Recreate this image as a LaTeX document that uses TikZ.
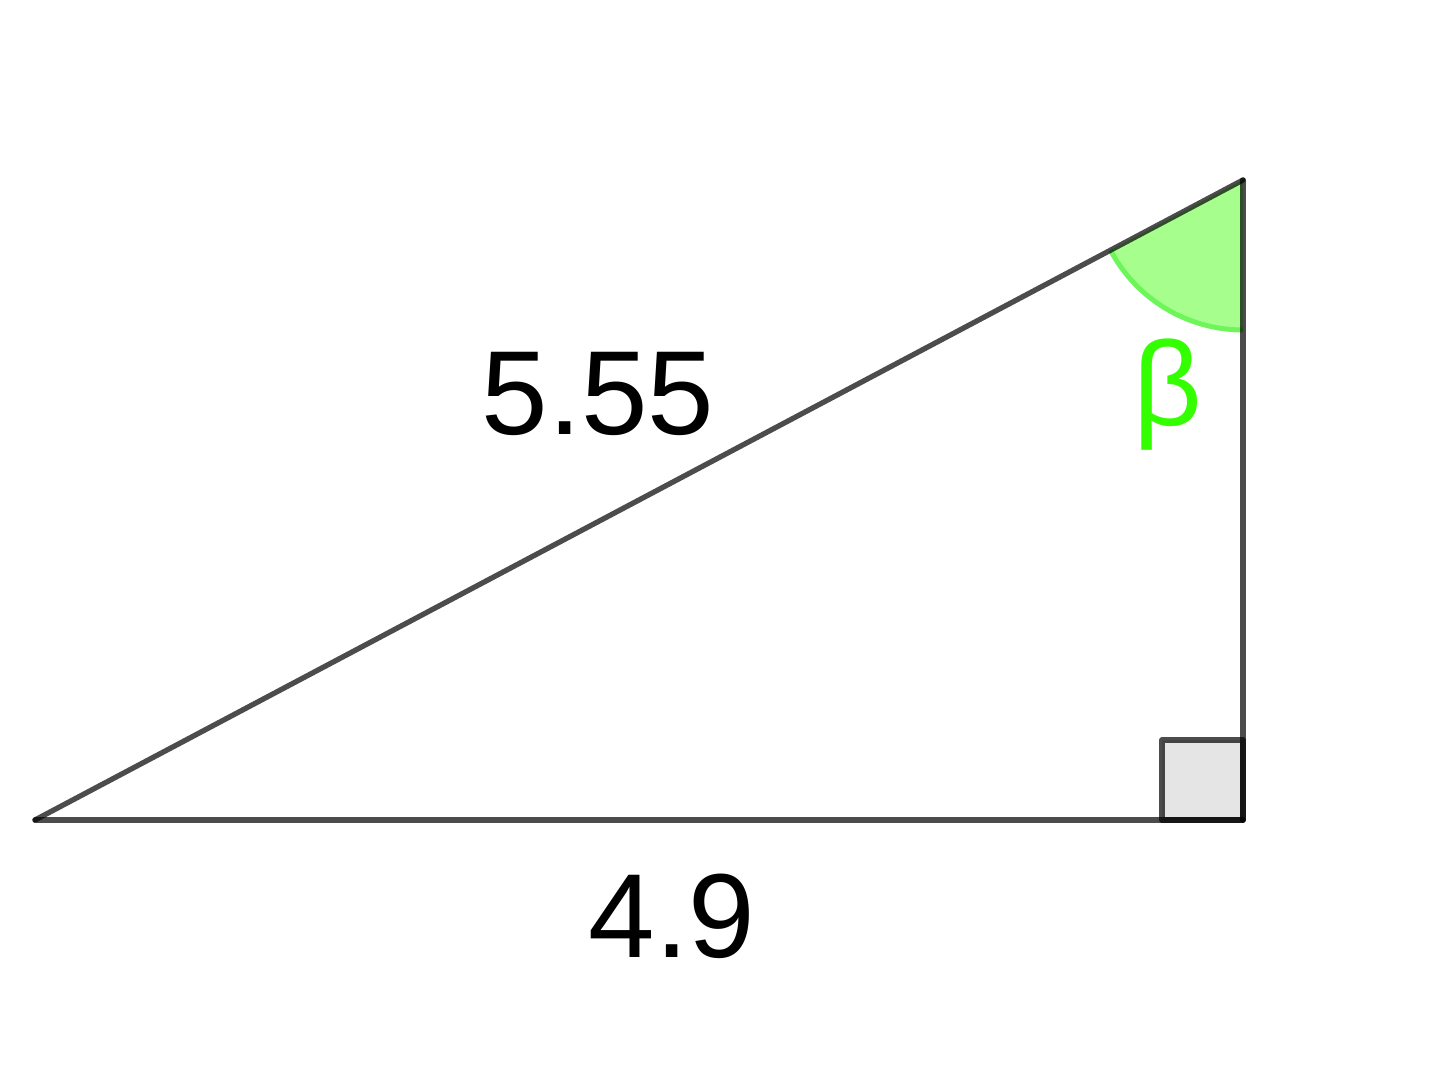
\documentclass[tikz,border=0pt]{standalone}
\usepackage{fontspec}
\setmainfont{Liberation Sans}
\usetikzlibrary{positioning}
\definecolor{angfill}{RGB}{166,255,140}
\definecolor{arcedge}{RGB}{110,245,90}
\definecolor{betacol}{RGB}{51,255,0}
\tikzset{side/.style={draw=black,draw opacity=0.7,line width=1.5pt,line cap=round,line join=round},lbl/.style={anchor=base,font=\fontsize{34}{40}\selectfont}}

\begin{document}
\begin{tikzpicture}[x=0.01cm,y=-0.01cm]
\useasboundingbox(0,0)rectangle(1445,1065);
\coordinate(A)at(35,820);\coordinate(B)at(1243,820);\coordinate(C)at(1243,180);
\filldraw[side,fill=black!10,fill opacity=1](B)rectangle(1162,740);
\fill[angfill](C)--++(152.1:150)arc[start angle=152.1,end angle=90,radius=150]--cycle;
\draw[arcedge,line width=1.4pt](C)++(152.1:150)arc[start angle=152.1,end angle=90,radius=150];
\draw[side](A)--(B);\draw[side](B)--(C);\draw[side](C)--(A);
\node[lbl](hyp)at(598,435){5.55};\node[lbl](base)at(672,958){4.9};\node[lbl,text=betacol](beta)at(1168,426){β};
\end{tikzpicture}
\end{document}
